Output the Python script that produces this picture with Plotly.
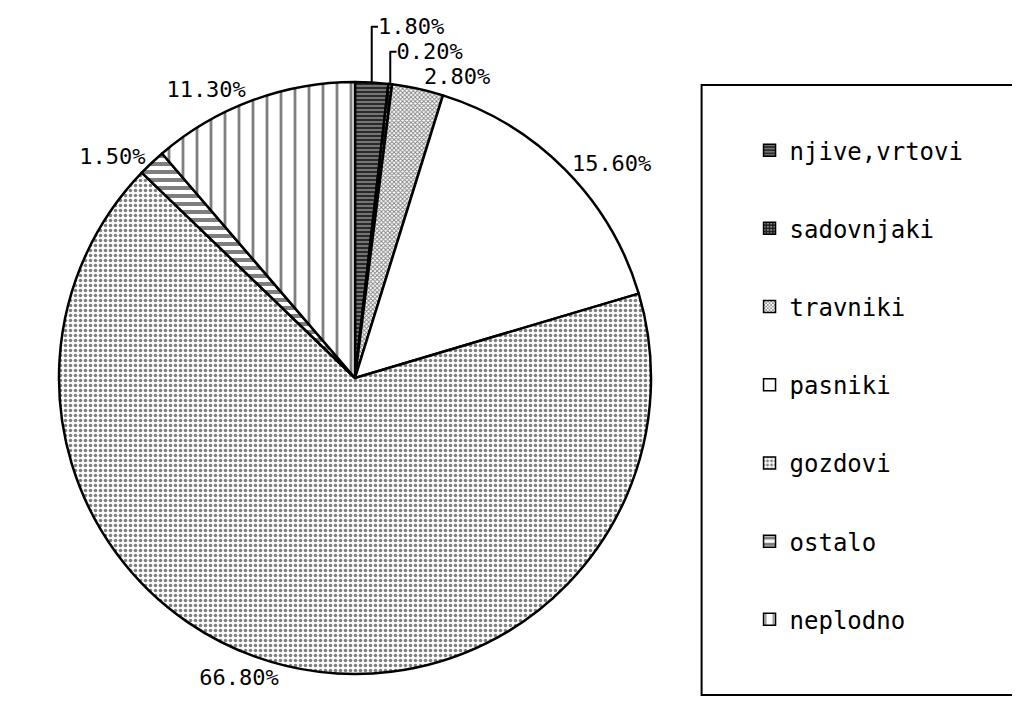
import plotly.graph_objects as go

categories = ["njive,vrtovi", "sadovnjaki", "travniki", "pasniki", "gozdovi", "ostalo", "neplodno"]
shares = [1.8, 0.2, 2.8, 15.6, 66.8, 1.5, 11.3]

# fill styles (black & white bitmap look)
bg_colors = ["#2a2a2a", "#1a1a1a", "white", "white", "white", "white", "white"]
pat_shapes = ["-", ".", "x", "", ".", "-", "|"]
pat_fg = ["white", "white", "black", "black", "black", "black", "black"]
pat_size = [4, 4, 3, 8, 5, 8, 14]
pat_solid = [0.35, 0.3, 0.5, 0.2, 0.4, 0.5, 0.2]

FONT = "DejaVu Sans Mono"

fig = go.Figure()
fig.add_trace(go.Pie(
    labels=categories,
    values=shares,
    sort=False,
    direction="clockwise",
    rotation=0,
    showlegend=False,
    automargin=False,
    textposition="outside",
    texttemplate="%{percent:.2%}",
    textfont=dict(family=FONT, size=22, color="black"),
    marker=dict(
        colors=bg_colors,
        line=dict(color="black", width=2.5),
        pattern=dict(shape=pat_shapes, fgcolor=pat_fg, size=pat_size,
                     solidity=pat_solid, fillmode="overlay"),
    ),
    domain=dict(x=[0.0, 0.6804], y=[0.0737, 0.8971]),
))

# legend entries (patterned swatches)
for i, lab in enumerate(categories):
    fig.add_trace(go.Bar(
        x=[None], y=[None], name=lab, legendgroup=lab,
        marker=dict(color=bg_colors[i],
                    pattern=dict(shape=pat_shapes[i], fgcolor=pat_fg[i], size=pat_size[i],
                                 solidity=pat_solid[i], fillmode="overlay"),
                    line=dict(color="black", width=1.5)),
    ))

fig.update_layout(
    width=1020, height=719,
    margin=dict(l=0, r=0, t=0, b=0, autoexpand=False),
    paper_bgcolor="white", plot_bgcolor="white",
    xaxis=dict(visible=False), yaxis=dict(visible=False),
    legend=dict(x=0.727, y=0.833, xanchor="left", yanchor="top",
                font=dict(family=FONT, size=24, color="black"),
                tracegroupgap=44, bgcolor="rgba(0,0,0,0)", itemclick=False),
    shapes=[dict(type="rect", xref="paper", yref="paper",
                 x0=0.680, x1=1.05, y0=0.0445, y1=0.893,
                 line=dict(color="black", width=2), fillcolor="rgba(0,0,0,0)")],
)

fig.write_html("out.html")
